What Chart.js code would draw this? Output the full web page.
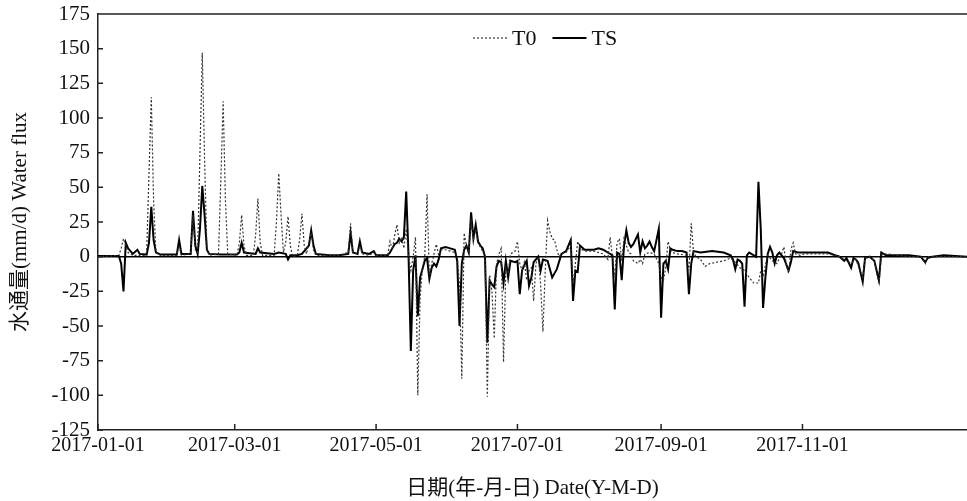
<!DOCTYPE html>
<html>
<head>
<meta charset="utf-8">
<script src="https://cdn.jsdelivr.net/npm/chart.js@4"></script>
<style>
html, body { margin: 0; padding: 0; background: #fff; }
#wrap { width: 967px; height: 501px; }
</style>
</head>
<body>
<div id="wrap"><canvas id="chart" width="967" height="501"></canvas></div>
<script>
// 日序号 (0 = 2017-01-01)
var tickDays = [0, 59, 120, 181, 243, 304];
var tickLabels = ['2017-01-01', '2017-03-01', '2017-05-01', '2017-07-01', '2017-09-01', '2017-11-01'];

// T0 series
var t0Days = [0, 5, 9, 10, 11, 12, 13, 15, 20, 21, 22, 23, 24, 25, 27, 34, 35, 36, 40, 41, 42, 43, 44, 45, 46, 47, 48,
    52, 53, 54, 55, 56, 60, 61, 62, 63, 64, 67, 68, 69, 70, 71, 76, 77, 78, 79, 80, 81, 82, 83, 84, 86, 87, 88, 89, 90,
    91, 92, 93, 94, 100, 104, 108, 109, 110, 112, 113, 114, 117, 119, 120, 125, 126, 127, 128, 129, 130, 131, 132, 133,
    134, 135, 136, 137, 138, 139, 140, 141, 142, 143, 144, 145, 146, 147, 148, 150, 152, 154, 155, 156, 157, 158, 159,
    160, 161, 162, 163, 164, 165, 166, 167, 168, 169, 170, 171, 172, 173, 174, 175, 176, 177, 178, 180, 181, 182, 183,
    184, 185, 186, 187, 188, 189, 190, 191, 192, 193, 194, 195, 196, 197, 198, 199, 200, 202, 204, 205, 206, 207, 208,
    210, 212, 214, 216, 218, 220, 221, 222, 223, 224, 225, 226, 227, 228, 229, 230, 231, 233, 234, 235, 236, 238, 240,
    242, 243, 244, 245, 246, 247, 248, 250, 254, 255, 256, 257, 258, 260, 262, 264, 270, 273, 275, 277, 279, 281, 283,
    285, 286, 287, 288, 289, 291, 293, 295, 296, 297, 298, 299, 300, 301, 303, 305, 310, 315, 318, 320, 322, 325, 327,
    330, 331, 333, 335, 337, 338, 340, 345, 350, 355, 357, 358, 365, 375];
var t0Values = [0, 0.5, 1, 6, 13, 8, 3, 1, 1, 3, 60, 115, 40, 3, 1, 1, 8, 1, 2, 30, 5, 3, 75, 147, 70, 5, 1,
    2, 55, 112, 40, 2, 1, 10, 30, 8, 1, 1, 15, 42, 10, 1, 1, 25, 60, 30, 3, 10, 29, 8, 0, 1, 12, 31, 8, 2,
    10, 17, 5, 1, 1, 1, 3, 24, 3, 2, 8, 2, 1, 3, 1, 1, 11, 5, 15, 23, 10, 14, 6, 20,
    0, -10, 0, 14, -100, -30, -8, 0, 45, -15, -5, 2, 9, 1, 5, 5, 4, 3, 0, -20, -88, 17, 8,
    3, 25, 12, 20, 10, 7, 4, 0, -101, -13, -25, -59, -5, 2, 6, -76, -8, -12, 2, 4, 11, -5, -10,
    -4, -17, -10, -8, -32, -5, 0, -20, -54, -10, 26, 18, 13, 12, 5, 0, 2, 3, 8, -20, -5, 11, 6,
    4, 4, 4, 3, 2, -2, 14, 0, -15, 10, 13, -3, 13, 8, 3, 2, -3, -5, -2, -5, 2, 3, 2,
    -5, -15, -17, -8, 11, 5, 3, 2, 1, -10, 24, 3, 0, -2, -7, -5, -3, -1, -4, -8, -10, -15, -19,
    -19, -10, -15, -6, 1, -3, -5, 2, 7, -6, -12, 5, 10, 2, 1, 2, 2, 2, 1, 0, -2, -5, -2,
    -15, -1, 0, -3, -20, 1, 2, 1, 0, 0, -5, 0, 0, 0];

// TS series
var tsDays = [0, 5, 9, 10, 11, 12, 13, 15, 17, 18, 21, 22, 23, 24, 25, 27, 34, 35, 36, 40, 41, 42, 43, 44, 45, 46, 47,
    48, 53, 60, 61, 62, 63, 68, 69, 70, 76, 78, 81, 82, 83, 86, 88, 91, 92, 93, 94, 100, 104, 108, 109, 110, 112, 113,
    114, 117, 119, 120, 125, 126, 127, 128, 129, 130, 131, 132, 133, 134, 135, 136, 137, 138, 139, 140, 141, 142, 143,
    144, 145, 146, 147, 148, 150, 152, 154, 155, 156, 157, 158, 159, 160, 161, 162, 163, 164, 165, 166, 167, 168, 169,
    170, 171, 172, 173, 174, 175, 176, 177, 178, 180, 181, 182, 183, 184, 185, 186, 187, 188, 190, 191, 192, 194, 196,
    198, 200, 202, 204, 205, 206, 207, 208, 210, 212, 214, 216, 218, 220, 222, 223, 224, 225, 226, 227, 228, 229, 230,
    231, 233, 234, 235, 236, 237, 238, 239, 240, 242, 243, 244, 245, 246, 247, 248, 250, 252, 254, 255, 256, 257, 260,
    265, 270, 273, 274, 275, 276, 277, 278, 279, 280, 281, 283, 284, 285, 286, 287, 288, 289, 290, 291, 292, 293, 294,
    296, 298, 299, 300, 302, 305, 310, 315, 318, 320, 322, 323, 325, 326, 327, 328, 330, 331, 333, 335, 337, 338, 340,
    345, 350, 355, 357, 358, 360, 365, 375];
var tsValues = [0.5, 0.5, 0.5, -5, -25, 10, 6, 2, 5, 2, 1.5, 10, 36, 12, 3, 1.5, 1.5, 12, 2, 2, 33, 8, 2, 20, 51, 30, 5,
    2, 1.5, 1.5, 3, 10, 3, 2, 6, 3, 2, 3, 2, -2, 1, 1, 2, 8, 19, 8, 2, 1, 1, 2, 17, 3, 2, 11,
    3, 2, 4, 1, 1, 3, 6, 9, 10, 13, 11, 14, 47, 1, -68, -10, 1, -43, -15, -9, -3, -1, -16,
    -8, -5, -7, -2, 6, 7, 6, 5, -3, -50, -5, 5, 8, 3, 32, 13, 23, 11, 8, 6, 0, -62, -17,
    -20, -22, -7, -3, -4, -19, -3, -15, -3, -4, -3, -27, -10, -6, -3, -21, -15, -4, 0, -10, -2, -3, -15,
    -9, 2, 4, 12, -32, -10, -11, 8, 5, 5, 5, 6, 5, 3, 1, -38, 3, 2, -17, 8, 19, 10, 7,
    9, 16, 3, 11, 6, 8, 11, 7, 4, 20, -44, -5, -3, -9, 6, 5, 4, 4, 3, -27, -5, 4, 3,
    4, 3, 1, -2, -9, -2, -3, -5, -36, 1, 3, 1, 0, 54, 20, -37, -15, 2, 7, 3, -5, 1, 3,
    -1, -10, -4, 4, 3, 3, 3, 3, 1, 0, -3, -1, -8, -1, -2, -4, -18, -1, 0, -3, -17, 3, 1,
    1, 1, 0, -4, -1, 0, 1, 0];

function toPoints(days, values) {
    return days.map(function(d, i) { return { x: d, y: values[i] }; });
}

Chart.defaults.font.family = "'Liberation Serif', 'Noto Sans CJK SC', serif";
Chart.defaults.color = '#111';

// 边框、零线、朝内的刻度和图例
var framePlugin = {
    id: 'frame',
    beforeDatasetsDraw: function(chart) {
        var ctx = chart.ctx, a = chart.chartArea;
        var y0 = chart.scales.y.getPixelForValue(0);
        ctx.save();
        ctx.strokeStyle = '#000';
        ctx.lineWidth = 1.5;
        ctx.beginPath();
        ctx.moveTo(a.left, y0);
        ctx.lineTo(a.right, y0);
        ctx.stroke();
        ctx.restore();
    },
    afterDatasetsDraw: function(chart) {
        var ctx = chart.ctx, a = chart.chartArea;
        var xs = chart.scales.x, ys = chart.scales.y;
        ctx.save();
        ctx.strokeStyle = '#222';
        ctx.lineWidth = 1.5;
        ctx.beginPath();
        ctx.moveTo(a.left, a.top);
        ctx.lineTo(a.right, a.top);
        ys.ticks.forEach(function(t) {
            var y = ys.getPixelForValue(t.value);
            ctx.moveTo(a.left, y);
            ctx.lineTo(a.left + 5, y);
        });
        xs.ticks.forEach(function(t) {
            var x = xs.getPixelForValue(t.value);
            ctx.moveTo(x, a.bottom);
            ctx.lineTo(x, a.bottom - 6);
        });
        ctx.stroke();

        // 图例
        var x = a.left + 375, y = a.top + 24;
        ctx.font = "22px 'Liberation Serif', serif";
        ctx.textBaseline = 'middle';
        ctx.fillStyle = '#111';
        chart.data.datasets.forEach(function(ds) {
            ctx.beginPath();
            ctx.strokeStyle = ds.borderColor;
            ctx.lineWidth = ds.borderWidth;
            ctx.setLineDash(ds.borderDash || []);
            ctx.moveTo(x, y);
            ctx.lineTo(x + 34, y);
            ctx.stroke();
            ctx.setLineDash([]);
            ctx.fillText(ds.label, x + 39, y + 1);
            x += 39 + ctx.measureText(ds.label).width + 16;
        });
        ctx.restore();
    }
};

new Chart(document.getElementById('chart'), {
    type: 'line',
    data: {
        datasets: [{
            label: 'T0',
            data: toPoints(t0Days, t0Values),
            borderColor: '#333',
            backgroundColor: '#333',
            borderWidth: 1.2,
            borderDash: [2, 2],
            pointRadius: 0,
            tension: 0
        }, {
            label: 'TS',
            data: toPoints(tsDays, tsValues),
            borderColor: '#000',
            backgroundColor: '#000',
            borderWidth: 2,
            pointRadius: 0,
            tension: 0
        }]
    },
    options: {
        responsive: false,
        animation: false,
        layout: { padding: { top: 14, left: 0, right: 0, bottom: 0 } },
        plugins: {
            tooltip: { enabled: false },
            legend: { display: false }
        },
        scales: {
            x: {
                type: 'linear',
                min: 0,
                max: 375,
                grid: { display: false, drawTicks: false },
                border: { display: true, color: '#222', width: 1.5 },
                afterBuildTicks: function(scale) {
                    scale.ticks = tickDays.map(function(v) { return { value: v }; });
                },
                afterFit: function(scale) { scale.height = 71; },
                ticks: {
                    autoSkip: false,
                    maxRotation: 0,
                    padding: 4,
                    font: { size: 20 },
                    color: '#111',
                    callback: function(value) {
                        var i = tickDays.indexOf(value);
                        return i >= 0 ? tickLabels[i] : '';
                    }
                },
                title: {
                    display: true,
                    text: '日期(年-月-日) Date(Y-M-D)',
                    font: { size: 21 },
                    color: '#111',
                    padding: { top: 0, bottom: 0 }
                }
            },
            y: {
                min: -125,
                max: 175,
                grid: { display: false, drawTicks: false },
                border: { display: true, color: '#222', width: 1.5 },
                afterFit: function(scale) {
                    scale.width = 98;
                    scale.paddingTop = 0;
                    scale.paddingBottom = 0;
                },
                ticks: {
                    stepSize: 25,
                    padding: 8,
                    font: { size: 21 },
                    color: '#111'
                },
                title: {
                    display: true,
                    text: '水通量(mm/d) Water flux',
                    font: { size: 21 },
                    color: '#111',
                    padding: { top: 8, bottom: 0 }
                }
            }
        }
    },
    plugins: [framePlugin]
});
</script>
</body>
</html>
